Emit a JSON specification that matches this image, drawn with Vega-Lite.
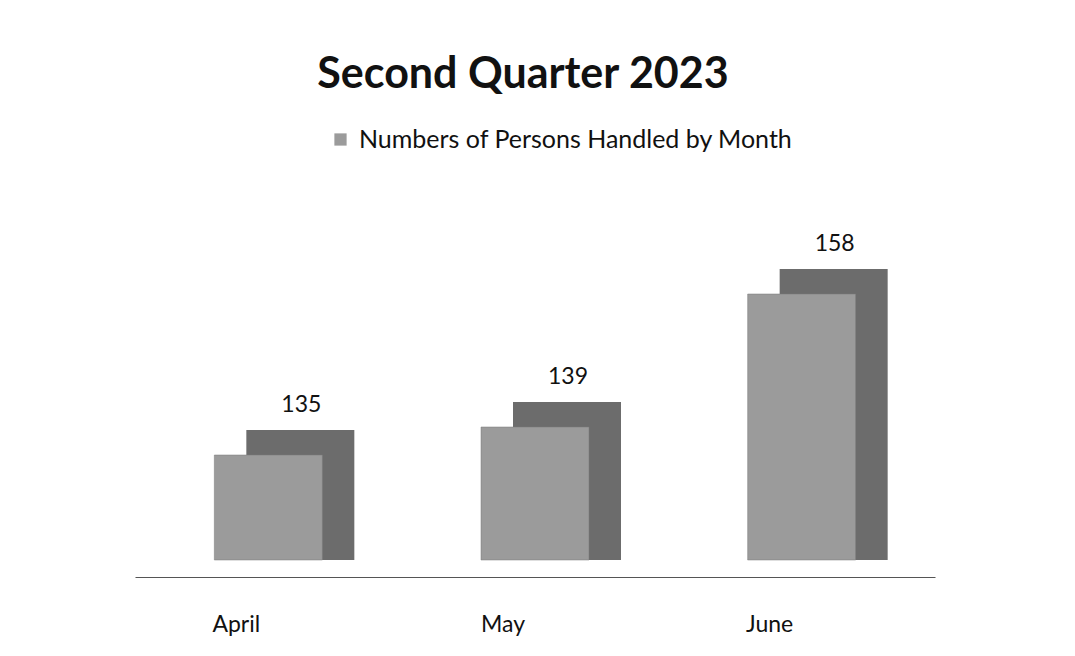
{
  "$schema": "https://vega.github.io/schema/vega-lite/v6.json",
  "autosize": "none",
  "width": 800,
  "height": 280,
  "padding": {"left": 135, "top": 280, "right": 140, "bottom": 96},
  "background": "#ffffff",
  "config": {"view": {"stroke": null}, "font": "Lato"},
  "title": {
    "text": "Second Quarter 2023",
    "font": "Lato",
    "fontSize": 43,
    "fontWeight": "bold",
    "color": "#111111",
    "anchor": "middle",
    "dx": -12,
    "offset": 30
  },
  "data": {
    "values": [
      {"month": "April", "persons": 135},
      {"month": "May", "persons": 139},
      {"month": "June", "persons": 158}
    ]
  },
  "encoding": {
    "x": {
      "field": "month",
      "type": "nominal",
      "sort": ["April", "May", "June"],
      "scale": {"paddingInner": 0.6, "paddingOuter": 0.3},
      "axis": {
        "title": null,
        "labelAngle": 0,
        "labelFont": "Lato",
        "labelFontSize": 23,
        "labelColor": "#111111",
        "labelPadding": 36,
        "labelOffset": -32,
        "ticks": false,
        "domain": true,
        "domainColor": "#555555",
        "domainWidth": 1.2,
        "offset": 17
      }
    },
    "y": {
      "field": "persons",
      "type": "quantitative",
      "scale": {"domain": [120, 160], "zero": false},
      "axis": null
    }
  },
  "layer": [
    {
      "mark": {"type": "bar", "size": 108, "xOffset": 32, "yOffset": -25, "color": "#6c6c6c"},
      "encoding": {"y2": {"datum": 120}}
    },
    {
      "mark": {"type": "bar", "size": 108, "stroke": "#7a7a7a", "strokeWidth": 0.5},
      "encoding": {
        "y2": {"datum": 120},
        "color": {
          "datum": "Numbers of Persons Handled by Month",
          "scale": {"range": ["#9b9b9b"]},
          "legend": {
            "title": null,
            "orient": "none",
            "legendX": 193,
            "legendY": -153,
            "symbolType": "square",
            "symbolSize": 150,
            "symbolStrokeWidth": 0,
            "labelFont": "Lato",
            "labelFontSize": 25,
            "labelColor": "#111111",
            "labelLimit": 600,
            "labelOffset": 6
          }
        }
      }
    },
    {
      "mark": {"type": "text", "dx": 33, "dy": -50, "font": "Lato", "fontSize": 23, "color": "#111111"},
      "encoding": {"text": {"field": "persons", "type": "quantitative"}}
    }
  ]
}
